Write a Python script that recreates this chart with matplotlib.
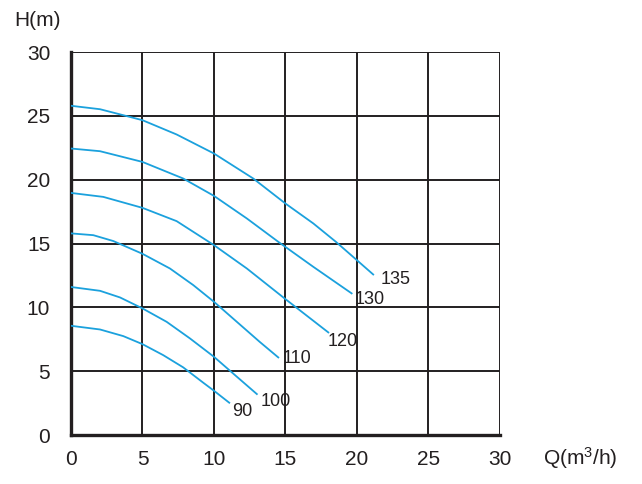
import matplotlib
matplotlib.use("Agg")
import matplotlib.pyplot as plt

plt.rcParams['font.family'] = ['Liberation Sans', 'DejaVu Sans']
plt.rcParams['mathtext.fontset'] = 'custom'
plt.rcParams['mathtext.rm'] = 'Liberation Sans'
plt.rcParams['mathtext.it'] = 'Liberation Sans'
plt.rcParams['mathtext.default'] = 'rm'

# Curves (Q in m3/h, H in m)
q135 = [0, 2.03, 3.66, 5.0, 7.39, 10.0, 12.75, 15.0, 16.95, 18.53, 20.0, 21.14]
h135 = [25.8, 25.53, 25.06, 24.67, 23.55, 22.06, 20.1, 18.14, 16.58, 15.14, 13.7, 12.58]
q130 = [0, 2.03, 5.0, 7.85, 10.0, 12.3, 14.5, 16.95, 19.63]
h130 = [22.45, 22.24, 21.4, 20.1, 18.74, 16.97, 15.14, 13.18, 11.1]
q120 = [0, 2.26, 5.0, 7.39, 10.0, 12.3, 15.0, 18.0]
h120 = [18.97, 18.66, 17.8, 16.76, 14.88, 13.05, 10.65, 8.04]
q110 = [0, 1.56, 2.96, 5.0, 6.92, 8.55, 10.0, 11.6, 13.2, 14.5]
h110 = [15.8, 15.66, 15.2, 14.2, 13.05, 11.75, 10.44, 8.87, 7.3, 6.08]
q100 = [0, 2.03, 3.43, 5.0, 6.69, 8.32, 10.0, 11.6, 13.0]
h100 = [11.6, 11.3, 10.78, 9.92, 8.87, 7.57, 6.13, 4.57, 3.21]
q90 = [0, 2.03, 3.66, 5.0, 6.45, 7.85, 9.25, 10.0, 11.07]
h90 = [8.56, 8.27, 7.75, 7.12, 6.26, 5.3, 4.1, 3.47, 2.53]

labels = ["135", "130", "120", "110", "100", "90"]
label_q = [22.7, 20.9, 19.0, 15.8, 14.3, 12.0]
label_h = [12.2, 10.6, 7.3, 6.0, 2.66, 1.88]

ticks = [0, 5, 10, 15, 20, 25, 30]

fig = plt.figure(figsize=(6.42, 4.84), dpi=100)
ax = fig.add_axes([0.1106, 0.1012, 0.668, 0.791])

curves = [(q135, h135), (q130, h130), (q120, h120), (q110, h110), (q100, h100), (q90, h90)]
for q, h in curves:
    ax.plot(q, h, color='#1ba1dd', lw=1.3, zorder=3, solid_joinstyle='round')

for lab, x, y in zip(labels, label_q, label_h):
    ax.text(x, y, lab, fontsize=13, ha='center', va='center', color='#231f20', zorder=4)

ax.set_xlim(0, 30)
ax.set_ylim(0, 30)
ax.set_xticks(ticks)
ax.set_yticks(ticks)
ax.grid(True, color='#231f20', lw=1.4, zorder=1)
ax.tick_params(axis='y', length=0, labelsize=15, pad=15, colors='#231f20')
ax.tick_params(axis='x', length=0, labelsize=15, pad=11, colors='#231f20')
for s in ['top', 'right']:
    ax.spines[s].set_visible(False)
for s in ['left', 'bottom']:
    ax.spines[s].set_linewidth(2.4)
    ax.spines[s].set_color('#231f20')

fig.text(37 / 642, 1 - 21 / 484, 'H(m)', fontsize=15, ha='center', va='center', color='#231f20')
fig.text(580 / 642, 1 - 458 / 484, 'Q(m$^3$/h)', fontsize=15, ha='center', va='center', color='#231f20')

fig.savefig('out.png', dpi=100)
